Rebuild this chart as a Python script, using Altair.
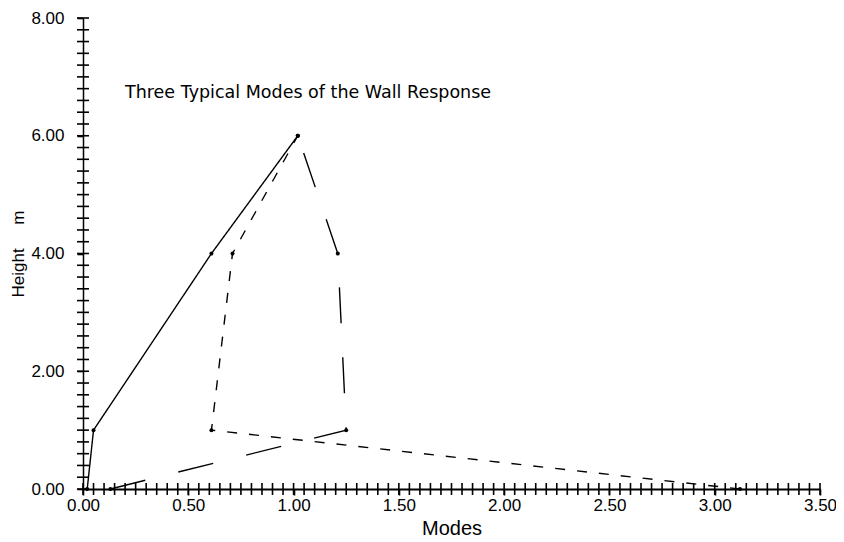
import altair as alt
import pandas as pd

# Mode shapes (displacement vs. height)
mode1_x = [0.02, 0.05, 0.61, 1.02]
mode1_y = [0.0, 1.0, 4.0, 6.0]
mode2_x = [3.12, 0.61, 0.71, 1.02]
mode2_y = [0.0, 1.0, 4.0, 6.0]
mode3_x = [0.13, 1.25, 1.21, 1.02]
mode3_y = [0.0, 1.0, 4.0, 6.0]

x_major = [0.0, 0.5, 1.0, 1.5, 2.0, 2.5, 3.0, 3.5]
y_major = [0.0, 2.0, 4.0, 6.0, 8.0]
x_minor = [round(i * 0.05, 2) for i in range(0, 71)]
y_minor = [round(i * 0.2, 1) for i in range(0, 41)]

rows = []
for name, xs, ys in [("Mode 1", mode1_x, mode1_y), ("Mode 2", mode2_x, mode2_y), ("Mode 3", mode3_x, mode3_y)]:
    for i, (a, b) in enumerate(zip(xs, ys)):
        rows.append({"mode": name, "x": a, "y": b, "order": i})
df = pd.DataFrame(rows)
xminor_df = pd.DataFrame({"xm": x_minor, "y0": [0.0] * len(x_minor)})
yminor_df = pd.DataFrame({"ym": y_minor, "x0": [0.0] * len(y_minor)})

FONT = "Liberation Sans"
TFONT = "DejaVu Sans"
W, H = 737, 471
Y_TITLE = "Height\u00a0\u00a0\u00a0\u00a0\u00a0m"

xscale = alt.Scale(domain=[0, 3.5], nice=False, zero=False)
yscale = alt.Scale(domain=[0, 8], nice=False, zero=False)

xaxis = alt.Axis(
    values=x_major, format=".2f",
    labelOverlap=False, labelFlush=False,
    labelFont=FONT, labelFontSize=17, labelColor="black", labelPadding=2,
    tickColor="black", tickSize=6, tickWidth=1.6, domainColor="black", domainWidth=2,
    grid=False, title="Modes", titleFont=FONT, titleFontSize=20, titleFontWeight="normal",
    titleColor="black", titleY=29,
)
yaxis = alt.Axis(
    values=y_major, format=".2f",
    labelOverlap=False, labelFlush=False,
    labelFont=FONT, labelFontSize=17, labelColor="black", labelPadding=13,
    tickColor="black", tickSize=6, tickWidth=1.6, domainColor="black", domainWidth=1.5,
    grid=False, title=Y_TITLE, titleFont=FONT, titleFontSize=17,
    titleFontWeight="normal", titleColor="black", titlePadding=3,
)

base = alt.Chart(df).encode(
    x=alt.X("x:Q", scale=xscale, axis=xaxis, title="Modes"),
    y=alt.Y("y:Q", scale=yscale, axis=yaxis, title=Y_TITLE),
    order="order:Q",
    detail="mode:N",
)

lines = base.mark_line(color="black", strokeWidth=1.4).encode(
    strokeDash=alt.StrokeDash(
        "mode:N",
        scale=alt.Scale(domain=["Mode 1", "Mode 2", "Mode 3"], range=[[1, 0], [10, 12], [36, 34]]),
        legend=None,
    )
)
points = base.mark_point(filled=True, color="black", size=16, opacity=1)

# minor tick marks along the axes, positioned through the shared scales
xminor = alt.Chart(xminor_df).mark_tick(
    color="black", thickness=1.6, size=12, opacity=1, orient="vertical", clip=False
).encode(
    x=alt.X("xm:Q", scale=xscale, title="Modes"),
    y=alt.Y("y0:Q", scale=yscale, title=Y_TITLE),
)
yminor = alt.Chart(yminor_df).mark_tick(
    color="black", thickness=1.6, size=12, opacity=1, orient="horizontal", clip=False
).encode(
    y=alt.Y("ym:Q", scale=yscale, title=Y_TITLE),
    x=alt.X("x0:Q", scale=xscale, title="Modes"),
)

chart = alt.layer(xminor, yminor, lines, points).properties(
    width=W,
    height=H,
    autosize=alt.AutoSizeParams(type="none"),
    padding={"left": 75, "top": 10, "right": 16, "bottom": 52},
    title=alt.TitleParams(
        "Three Typical Modes of the Wall Response",
        anchor="start", frame="group", orient="top", dx=42, dy=96,
        font=TFONT, fontSize=17.5, fontWeight="normal", color="black",
    ),
).configure(background="white").configure_view(stroke=None)

chart.save("out.html", embed_options={"renderer": "svg", "actions": False})
